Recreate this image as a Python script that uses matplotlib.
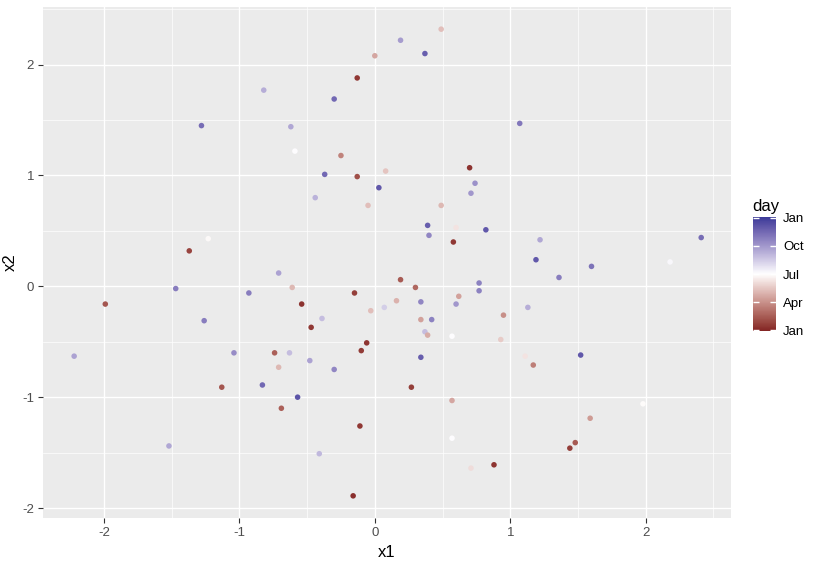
import numpy as np
import matplotlib
matplotlib.use("Agg")
import matplotlib.pyplot as plt
from matplotlib.colors import ListedColormap, Normalize

plt.rcParams['font.family'] = ['Liberation Sans', 'DejaVu Sans']
plt.rcParams['axes.unicode_minus'] = False

# points: x1, x2 and day of year
x1 = [0.49, 0.19, 0.37, 0.00, -0.13, -0.30, -0.82, -1.28, -1.37, -1.23,
      -0.62, -0.59, -0.25, -0.37, -0.13, 0.08, 0.03, -0.44, -0.05, 0.49,
      0.70, 0.74, 0.71, 0.39, 0.40, 0.60, 0.82, 0.58, 1.07, 1.22,
      1.19, 2.41, 2.18, 1.60, 1.36, 1.13, 0.95, 0.93, 1.11, 1.17,
      1.52, 1.98, 1.59, 1.48, 1.44,
      -0.71, -0.61, -0.54, -0.15, 0.19, 0.30, 0.77, 0.77, 0.62, 0.60,
      0.34, 0.16, 0.07, -0.03, -0.39, -0.47, 0.34, 0.42, 0.37, 0.39,
      0.57, -0.06, -0.10, -0.74, -0.63, -0.71, -0.48, -0.30, 0.34, 0.27,
      -0.57, -0.69, 0.57, -0.11, 0.57, -0.41, 0.71, 0.88, -0.16,
      -1.47, -0.93, -1.99, -1.26, -2.22, -1.04, -1.13, -0.83, -1.52]
x2 = [2.32, 2.22, 2.10, 2.08, 1.88, 1.69, 1.77, 1.45, 0.32, 0.43,
      1.44, 1.22, 1.18, 1.01, 0.99, 1.04, 0.89, 0.80, 0.73, 0.73,
      1.07, 0.93, 0.84, 0.55, 0.46, 0.53, 0.51, 0.40, 1.47, 0.42,
      0.24, 0.44, 0.22, 0.18, 0.08, -0.19, -0.26, -0.48, -0.63, -0.71,
      -0.62, -1.06, -1.19, -1.41, -1.46,
      0.12, -0.01, -0.16, -0.06, 0.06, -0.01, 0.03, -0.04, -0.09, -0.16,
      -0.14, -0.13, -0.19, -0.22, -0.29, -0.37, -0.30, -0.30, -0.41, -0.44,
      -0.45, -0.51, -0.58, -0.60, -0.60, -0.73, -0.67, -0.75, -0.64, -0.91,
      -1.00, -1.10, -1.03, -1.26, -1.37, -1.51, -1.64, -1.61, -1.89,
      -0.02, -0.06, -0.16, -0.31, -0.63, -0.60, -0.91, -0.89, -1.44]
day = [130, 270, 330, 110, 15, 320, 255, 315, 25, 178,
       260, 185, 80, 320, 35, 135, 335, 250, 130, 125,
       10, 280, 275, 330, 290, 160, 335, 15, 305, 260,
       335, 315, 190, 310, 300, 255, 90, 140, 160, 75,
       335, 180, 100, 45, 20,
       265, 125, 10, 20, 45, 55, 295, 295, 105, 275,
       290, 120, 225, 130, 240, 15, 105, 295, 240, 115,
       185, 12, 18, 50, 240, 125, 265, 290, 330, 20,
       340, 50, 110, 15, 185, 245, 155, 12, 8,
       300, 300, 40, 300, 265, 285, 40, 320, 260]

month_days = [1, 91, 182, 274, 366]
month_labels = ['Jan', 'Apr', 'Jul', 'Oct', 'Jan']


# gradient2-like colour scale, interpolated in Lab space
def to_lab(c):
    c = np.array(c) / 255.0
    c = np.where(c > 0.04045, ((c + 0.055) / 1.055) ** 2.4, c / 12.92)
    m = np.array([[0.4124, 0.3576, 0.1805],
                  [0.2126, 0.7152, 0.0722],
                  [0.0193, 0.1192, 0.9505]])
    xyz = m @ c / np.array([0.95047, 1.0, 1.08883])
    f = np.where(xyz > 0.008856, np.cbrt(xyz), 7.787 * xyz + 16 / 116)
    return np.array([116 * f[1] - 16, 500 * (f[0] - f[1]), 200 * (f[1] - f[2])])


def from_lab(lab):
    fy = (lab[0] + 16) / 116
    fx = fy + lab[1] / 500
    fz = fy - lab[2] / 200
    f = np.array([fx, fy, fz])
    xyz = np.where(f > 0.2069, f ** 3, (f - 16 / 116) / 7.787)
    xyz = xyz * np.array([0.95047, 1.0, 1.08883])
    m = np.array([[3.2406, -1.5372, -0.4986],
                  [-0.9689, 1.8758, 0.0415],
                  [0.0557, -0.2040, 1.0570]])
    c = m @ xyz
    c = np.where(c > 0.0031308, 1.055 * np.clip(c, 0, None) ** (1 / 2.4) - 0.055, 12.92 * c)
    return np.clip(c, 0, 1)


low, mid, high = to_lab((0x83, 0x24, 0x24)), to_lab((255, 255, 255)), to_lab((0x3A, 0x3A, 0x98))
cols = []
for t in np.linspace(0, 1, 256):
    if t < 0.5:
        lab = low + (mid - low) * (t / 0.5)
    else:
        lab = mid + (high - mid) * ((t - 0.5) / 0.5)
    cols.append(from_lab(lab))
cmap = ListedColormap(cols)
norm = Normalize(vmin=-2, vmax=368)

fig = plt.figure(figsize=(8.18, 5.65), dpi=100)
ax = fig.add_axes([43 / 818, 1 - 518 / 565, 688 / 818, 511 / 565])
ax.set_facecolor('#EBEBEB')

sc = ax.scatter(x1, x2, c=day, cmap=cmap, norm=norm, s=16, linewidths=0, zorder=3)

ax.set_xticks([-2, -1, 0, 1, 2])
ax.set_yticks([-2, -1, 0, 1, 2])
ax.set_xticks([-1.5, -0.5, 0.5, 1.5, 2.5], minor=True)
ax.set_yticks([-1.5, -0.5, 0.5, 1.5, 2.5], minor=True)
ax.set_xlim(-2.45, 2.63)
ax.set_ylim(-2.09, 2.52)
ax.grid(which='major', color='white', linewidth=1.0, zorder=0)
ax.grid(which='minor', color='white', linewidth=0.5, zorder=0)
ax.set_axisbelow(True)
for s in ax.spines.values():
    s.set_visible(False)
ax.tick_params(which='major', length=3.5, width=0.8, color='#333333',
               labelsize=9.5, labelcolor='#4D4D4D', pad=3)
ax.tick_params(which='minor', length=0)
ax.set_xlabel('x1', fontsize=12, labelpad=4)
ax.set_ylabel('x2', fontsize=12, labelpad=3)

cax = fig.add_axes([753 / 818, 1 - 331 / 565, 23 / 818, 114 / 565])
cb = fig.colorbar(sc, cax=cax)
cb.outline.set_visible(False)
cb.set_ticks(month_days)
cb.set_ticklabels(month_labels)
cax.tick_params(direction='in', color='white', length=4, width=1,
                left=True, right=True, labelsize=9.5, pad=5)
cax.set_title('day', fontsize=12, loc='left', pad=4, x=-0.02)

fig.savefig('out.png', dpi=100)
